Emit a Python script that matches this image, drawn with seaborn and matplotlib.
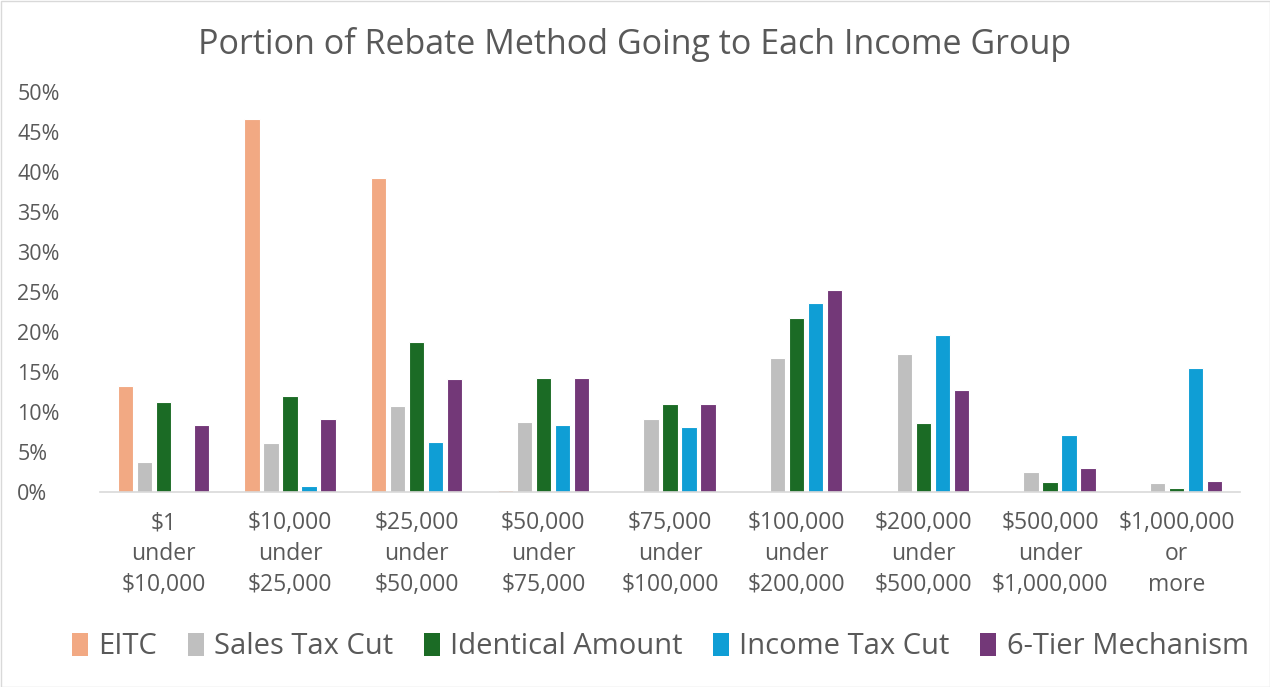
import matplotlib
matplotlib.use("Agg")
import matplotlib.pyplot as plt
import seaborn as sns
import pandas as pd
from matplotlib.patches import Patch, Rectangle
from matplotlib.ticker import PercentFormatter

categories = ["$1\nunder\n$10,000", "$10,000\nunder\n$25,000", "$25,000\nunder\n$50,000",
              "$50,000\nunder\n$75,000", "$75,000\nunder\n$100,000", "$100,000\nunder\n$200,000",
              "$200,000\nunder\n$500,000", "$500,000\nunder\n$1,000,000", "$1,000,000\nor\nmore"]
series = ["EITC", "Sales Tax Cut", "Identical Amount", "Income Tax Cut", "6-Tier Mechanism"]
eitc = [13.3, 46.6, 39.3, 0.3, 0.0, 0.0, 0.0, 0.0, 0.0]
sales_tax = [3.7, 6.1, 10.8, 8.8, 9.1, 16.7, 17.3, 2.5, 1.1]
identical = [11.2, 12.0, 18.7, 14.2, 11.0, 21.8, 8.6, 1.2, 0.5]
income_tax = [0.0, 0.7, 6.3, 8.4, 8.1, 23.6, 19.6, 7.1, 15.5]
six_tier = [8.4, 9.1, 14.1, 14.2, 11.0, 25.3, 12.8, 3.0, 1.4]
colors = ["#F2A983", "#BFBFBF", "#1B6B25", "#0F9ED5", "#733878"]

rows = []
for name, vals in zip(series, [eitc, sales_tax, identical, income_tax, six_tier]):
    for c, v in zip(categories, vals):
        rows.append({"Income": c, "Method": name, "Share": v / 100})
df = pd.DataFrame(rows)

sns.set_style("white")
plt.rcParams["font.family"] = ["Open Sans", "DejaVu Sans"]

fig = plt.figure(figsize=(12.7, 6.87), dpi=100)
ax = fig.add_axes([100 / 1270, 1 - 492 / 687, 1140 / 1270, 400 / 687])
sns.barplot(data=df, x="Income", y="Share", hue="Method", hue_order=series,
            order=categories, palette=colors, saturation=1, width=0.75, gap=0.18,
            edgecolor="white", linewidth=0.8, ax=ax, legend=False)

ax.set_ylim(0, 0.5)
ax.set_xlim(-0.5, len(categories) - 0.5)
ax.set_yticks([i / 100 for i in range(0, 51, 5)])
ax.yaxis.set_major_formatter(PercentFormatter(1.0, decimals=0))
ax.set_xlabel("")
ax.set_ylabel("")
for s in ["top", "right", "left"]:
    ax.spines[s].set_visible(False)
ax.spines["bottom"].set_color("#D9D9D9")
ax.spines["bottom"].set_linewidth(1.2)
ax.tick_params(axis="both", length=0, colors="#595959")
ax.tick_params(axis="y", labelsize=15.5, pad=59.5)
for lab in ax.get_yticklabels():
    lab.set_horizontalalignment("left")
ax.tick_params(axis="x", labelsize=16.5, pad=14)
for lab in ax.get_xticklabels():
    lab.set_linespacing(1.37)

fig.text(0.5, 1 - 44 / 687, "Portion of Rebate Method Going to Each Income Group",
         ha="center", va="center", fontsize=24.5, color="#595959")

handles = [Patch(facecolor=c, edgecolor="none") for c in colors]
fig.legend(handles, series, loc="center", bbox_to_anchor=(0.52, 1 - 647 / 687),
           ncol=5, frameon=False, fontsize=21, labelcolor="#595959",
           handlelength=0.55, handleheight=0.8, handletextpad=0.35, columnspacing=1.05)

fig.add_artist(Rectangle((0.5 / 1270, 0.5 / 687), 1 - 1 / 1270, 1 - 1 / 687,
                         transform=fig.transFigure, fill=False, edgecolor="#D9D9D9", linewidth=1))

fig.savefig("out.png", dpi=100, facecolor="white")
